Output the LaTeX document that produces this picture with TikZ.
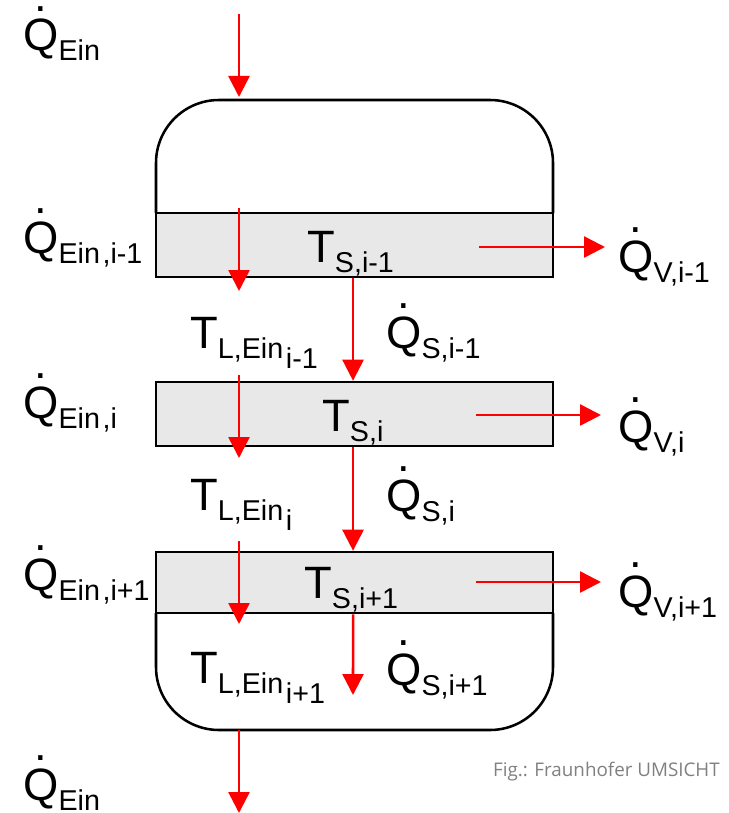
\documentclass[tikz,border=0pt]{standalone}
\usepackage{fontspec}
\setmainfont{Liberation Sans}
\newfontfamily\creditfont{Open Sans}
\usetikzlibrary{arrows.meta}

\newcommand{\subtext}[1]{\raisebox{-7.5pt}{\fontsize{21.5}{21.5}\selectfont #1}}
\newcommand{\subsubtext}[1]{\kern2pt\raisebox{-15pt}{\fontsize{21.5}{21.5}\selectfont #1}}
\newcommand{\Qflow}[1]{\makebox[0pt][l]{\makebox[.778em][c]{\raisebox{.88em}{.}}}Q\subtext{#1}}
\newcommand{\Tstage}[1]{T\subtext{#1}}

\tikzset{
    vessel/.style={line width=1.9pt,draw=black,rounded corners=47.25pt},
    stageband/.style={draw=black,line width=1.9pt,fill=bandgray,minimum width=297.75pt,inner sep=0pt},
    flow/.style={draw=red,line width=1.9pt,-{Triangle[length=15.75pt,width=15.75pt]}},
    quantity/.style={anchor=base west,inner sep=0pt,font=\fontsize{34}{34}\selectfont},
    credit/.style={anchor=base east,inner sep=0pt,text=creditgray,font=\creditfont\fontsize{14.1}{14.1}\selectfont}
}
\definecolor{bandgray}{RGB}{232,232,232}
\definecolor{creditgray}{RGB}{128,128,130}

\begin{document}
\begin{tikzpicture}[x=0.75pt,y=-0.75pt]
    \useasboundingbox (0,0) rectangle (728,813);

    %Shape: vessel head
    \draw [vessel] (156,213) -- (156,100) -- (553,100) -- (553,213);
    %Shape: vessel bottom
    \draw [vessel] (156,613) -- (156,730) -- (553,730) -- (553,613);

    %Shape: stages
    \node [stageband,minimum height=48pt] (bandA) at (354.5,245) {};
    \node [stageband,minimum height=48pt] (bandB) at (354.5,414) {};
    \node [stageband,minimum height=45.75pt] (bandC) at (354.5,582.5) {};

    %Free ends of the arrows
    \coordinate (inA) at (239,14);
    \coordinate (inAe) at (239,97);
    \coordinate (inB) at (239,208);
    \coordinate (inBe) at (239,291);
    \coordinate (inC) at (239,375);
    \coordinate (inCe) at (239,458);
    \coordinate (inD) at (239,541);
    \coordinate (inDe) at (239,624);
    \coordinate (inE) at (239,730);
    \coordinate (inEe) at (239,813);
    \coordinate (lossA) at (479,247);
    \coordinate (lossAe) at (605,247);
    \coordinate (lossB) at (476,415);
    \coordinate (lossBe) at (601,415);
    \coordinate (lossC) at (476,582);
    \coordinate (lossCe) at (601,582);
    \coordinate (stemC) at (353,695);

    %Straight Lines: arrows
    \draw [flow] (inA) -- (inAe);
    \draw [flow] (inB) -- (inBe);
    \draw [flow] (inC) -- (inCe);
    \draw [flow] (inD) -- (inDe);
    \draw [flow] (inE) -- (inEe);
    \draw [flow] (lossA) -- (lossAe);
    \draw [flow] (lossB) -- (lossBe);
    \draw [flow] (lossC) -- (lossCe);
    \draw [flow] ([xshift=-1.1pt]bandA.south) -- ([xshift=-1.1pt]bandB.north);
    \draw [flow] ([xshift=-1.1pt]bandB.south) -- ([xshift=-1.1pt]bandC.north);
    \draw [flow] ([xshift=-1.1pt]bandC.south) -- (stemC);

    % Text Node
    \node [quantity] (qTop) at (23,51) {\Qflow{Ein}};
    \node [quantity] (qA) at (23,253) {\Qflow{Ein\kern2pt,i-1}};
    \node [quantity] (qB) at (23,418) {\Qflow{Ein\kern2pt,i}};
    \node [quantity] (qC) at (23,590) {\Qflow{Ein\kern2pt,i+1}};
    \node [quantity] (qBottom) at (23,800) {\Qflow{Ein}};
    % Text Node
    \node [quantity] (tsA) at (307,262) {\Tstage{S,i-1}};
    \node [quantity] (tsB) at (322,431) {\Tstage{S,i}};
    \node [quantity] (tsC) at (304,598) {\Tstage{S,i+1}};
    % Text Node
    \node [quantity] (tlA) at (190,348) {\Tstage{L,Ein}\subsubtext{i-1}};
    \node [quantity] (tlB) at (190,510) {\Tstage{L,Ein}\subsubtext{i}};
    \node [quantity] (tlC) at (190,683) {\Tstage{L,Ein}\subsubtext{i+1}};
    % Text Node
    \node [quantity] (qsA) at (386,348) {\Qflow{S,i-1}};
    \node [quantity] (qsB) at (386,511) {\Qflow{S,i}};
    \node [quantity] (qsC) at (386,685) {\Qflow{S,i+1}};
    % Text Node
    \node [quantity] (qvA) at (618,272) {\Qflow{V,i-1}};
    \node [quantity] (qvB) at (618,442) {\Qflow{V,i}};
    \node [quantity] (qvC) at (618,607) {\Qflow{V,i+1}};
    % Text Node
    \node [credit] (figCredit) at (720,776) {Fig.: Fraunhofer UMSICHT};

\end{tikzpicture}
\end{document}
